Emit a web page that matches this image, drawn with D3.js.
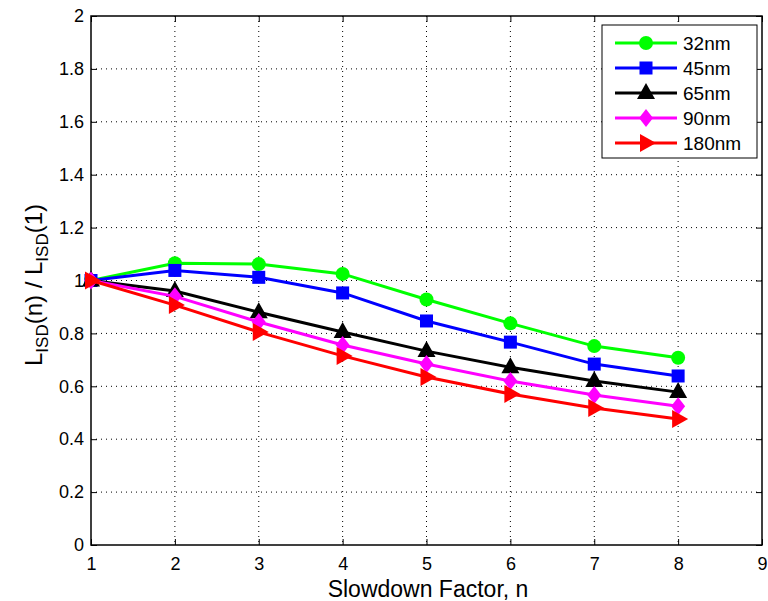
<!DOCTYPE html>
<html><head><meta charset="utf-8">
<script src="https://cdn.jsdelivr.net/npm/d3@7"></script>
<style>body{margin:0;background:#fff}svg{display:block;font-family:"Liberation Sans",Arial,sans-serif}</style>
</head><body><svg id="c" width="768" height="601"></svg>
<script>
const xs = [1,2,3,4,5,6,7,8];
const s32 = [1.00,1.065,1.062,1.025,0.928,0.838,0.752,0.708];
const s45 = [1.00,1.038,1.012,0.953,0.847,0.767,0.684,0.639];
const s65 = [1.00,0.960,0.880,0.805,0.733,0.672,0.620,0.578];
const s90 = [1.00,0.940,0.843,0.756,0.684,0.620,0.567,0.525];
const s180 = [1.00,0.907,0.805,0.715,0.635,0.571,0.518,0.476];
const names = ["32nm","45nm","65nm","90nm","180nm"];
const colors = ["#00ff00","#0000ff","#000000","#ff00ff","#ff0000"];
const markers = ["circle","square","triangle","diamond","right"];
const xTicks = [1,2,3,4,5,6,7,8,9];
const yTicks = [0,0.2,0.4,0.6,0.8,1,1.2,1.4,1.6,1.8,2];
const series = [s32,s45,s65,s90,s180];

const L=91,R=762,T=16,B=545;
const svg=d3.select("#c");
const x=d3.scaleLinear().domain([1,9]).range([L,R]);
const y=d3.scaleLinear().domain([0,2]).range([B,T]);

// grid
const g=svg.append("g");
xTicks.slice(1,-1).forEach(t=>g.append("line").attr("x1",x(t)).attr("x2",x(t)).attr("y1",T).attr("y2",B).attr("stroke","#000").attr("stroke-width",1).attr("stroke-dasharray","1,4"));
yTicks.slice(1,-1).forEach(t=>g.append("line").attr("x1",L).attr("x2",R).attr("y1",y(t)).attr("y2",y(t)).attr("stroke","#000").attr("stroke-width",1).attr("stroke-dasharray","1,4"));

// axes
const xa=svg.append("g").attr("transform",`translate(0,${B})`).call(d3.axisBottom(x).tickValues(xTicks).tickSizeInner(-6).tickSizeOuter(0).tickPadding(12).tickFormat(d3.format("d")));
const ya=svg.append("g").attr("transform",`translate(${L},0)`).call(d3.axisLeft(y).tickValues(yTicks).tickSizeInner(-6).tickSizeOuter(0).tickPadding(7).tickFormat(d=>d===0?"0":d3.format("")(+d.toFixed(1))));
svg.append("g").attr("transform",`translate(0,${T})`).call(d3.axisTop(x).tickValues(xTicks).tickSizeInner(-6).tickSizeOuter(0).tickFormat(""));
svg.append("g").attr("transform",`translate(${R},0)`).call(d3.axisRight(y).tickValues(yTicks).tickSizeInner(-6).tickSizeOuter(0).tickFormat(""));
svg.selectAll(".domain").remove();
svg.selectAll(".tick line").attr("stroke","#000");
[xa,ya].forEach(a=>a.selectAll("text").attr("font-size",18).attr("fill","#000").attr("font-family","Liberation Sans, Arial, sans-serif"));
svg.append("rect").attr("x",L).attr("y",T).attr("width",R-L).attr("height",B-T).attr("fill","none").attr("stroke","#000").attr("stroke-width",1.5);

function mark(sel,type,color,cx,cy){
  if(type==="circle") sel.append("circle").attr("cx",cx).attr("cy",cy).attr("r",7).attr("fill",color);
  else if(type==="square") sel.append("rect").attr("x",cx-6.5).attr("y",cy-6.5).attr("width",13).attr("height",13).attr("fill",color);
  else if(type==="triangle") sel.append("path").attr("d",`M${cx},${cy-10}L${cx+9},${cy+6}L${cx-9},${cy+6}Z`).attr("fill",color);
  else if(type==="diamond") sel.append("path").attr("d",`M${cx},${cy-9}L${cx+7},${cy}L${cx},${cy+9}L${cx-7},${cy}Z`).attr("fill",color);
  else sel.append("path").attr("d",`M${cx+10},${cy}L${cx-6},${cy+9}L${cx-6},${cy-9}Z`).attr("fill",color);
}

const line=d3.line().x((d,i)=>x(xs[i])).y(d=>y(d));
series.forEach((s,k)=>{
  const gg=svg.append("g");
  gg.append("path").datum(s).attr("d",line).attr("fill","none").attr("stroke",colors[k]).attr("stroke-width",3);
  s.forEach((v,i)=>mark(gg,markers[k],colors[k],x(xs[i]),y(v)));
});

// legend
const lg=svg.append("g");
lg.append("rect").attr("x",602).attr("y",25).attr("width",155).attr("height",133).attr("fill","#fff").attr("stroke","#000").attr("stroke-width",1);
names.forEach((n,k)=>{
  const cy=43+k*25;
  lg.append("line").attr("x1",615).attr("x2",677).attr("y1",cy).attr("y2",cy).attr("stroke",colors[k]).attr("stroke-width",3);
  mark(lg,markers[k],colors[k],646,cy);
  lg.append("text").attr("x",683).attr("y",cy+7).attr("font-size",19).text(n);
});

// axis labels
svg.append("text").attr("x",428).attr("y",597).attr("text-anchor","middle").attr("font-size",23).text("Slowdown Factor, n");
const yl=svg.append("text").attr("transform","translate(42,285) rotate(-90)").attr("text-anchor","middle").attr("font-size",24);
yl.append("tspan").text("L");
yl.append("tspan").attr("font-size",17).attr("dy",6).text("ISD");
yl.append("tspan").attr("dy",-6).text("(n) / L");
yl.append("tspan").attr("font-size",17).attr("dy",6).text("ISD");
yl.append("tspan").attr("dy",-6).text("(1)");
</script></body></html>
